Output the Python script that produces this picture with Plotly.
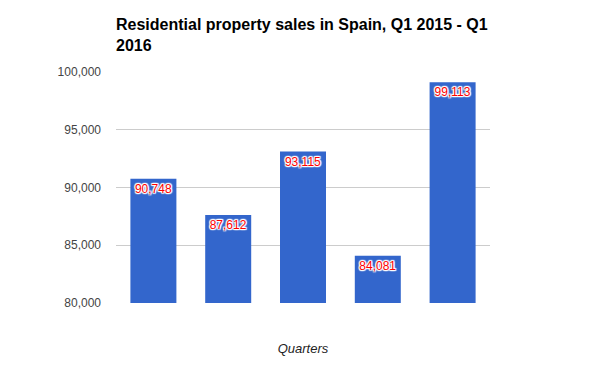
import plotly.graph_objects as go

quarters = ["Q1 2015", "Q2 2015", "Q3 2015", "Q4 2015", "Q1 2016"]
sales = [90748, 87612, 93115, 84081, 99113]
labels = ["90,748", "87,612", "93,115", "84,081", "99,113"]
tick_vals = [80000, 85000, 90000, 95000, 100000]
tick_text = ["80,000", "85,000", "90,000", "95,000", "100,000"]

white_outline = ("1px 0 1px white, -1px 0 1px white, 0 1px 1px white, 0 -1px 1px white, "
                 "1px 1px 1px white, -1px -1px 1px white, 1px -1px 1px white, -1px 1px 1px white")

fig = go.Figure(go.Bar(
    x=quarters, y=sales, text=labels,
    textposition="inside", insidetextanchor="end", textangle=0,
    textfont=dict(family="Arial, Liberation Sans", size=12, color="#ff0000", shadow=white_outline),
    marker=dict(color="#3366cc", line=dict(width=0)),
    hoverinfo="x+y",
))

# page body has an 8px default margin, so offsets are compensated
fig.update_layout(
    width=606, height=375,
    margin=dict(l=108, r=124, t=64, b=80),
    paper_bgcolor="white", plot_bgcolor="white",
    bargap=0.385,
    showlegend=False,
    title=dict(text="<b>Residential property sales in Spain, Q1 2015 - Q1<br>2016</b>",
               x=108/606, xanchor="left", y=1-22/375, yanchor="top",
               font=dict(family="Arial, Liberation Sans", size=16, color="#000000")),
    xaxis=dict(showticklabels=False, showgrid=False, zeroline=False, showline=False,
               title=dict(text="<i>Quarters</i>", standoff=40,
                          font=dict(family="Arial, Liberation Sans", size=13, color="#222222"))),
    yaxis=dict(range=[80000, 100000], tickvals=tick_vals, ticktext=tick_text,
               showgrid=True, gridcolor="#cccccc", gridwidth=1, zeroline=False,
               showline=False, ticks="", ticklabelstandoff=14,
               tickfont=dict(family="Arial, Liberation Sans", size=12, color="#444444")),
)

fig.write_html("out.html")
